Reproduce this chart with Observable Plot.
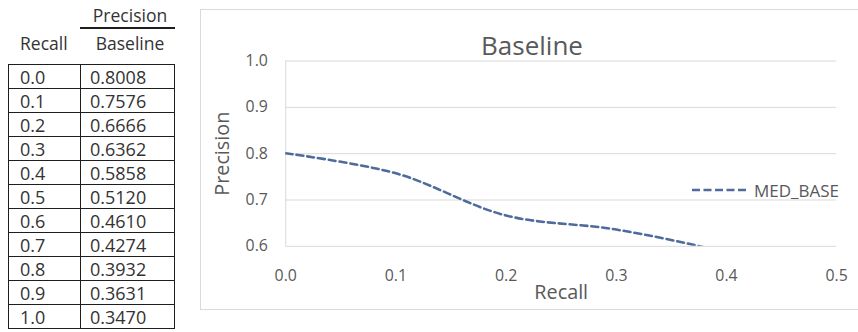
<!DOCTYPE html>
<html><head><meta charset="utf-8">
<script src="https://cdn.jsdelivr.net/npm/d3@7"></script>
<script src="https://cdn.jsdelivr.net/npm/@observablehq/plot@0.6"></script>
<style>
body{margin:0;background:#fff;font-family:"Open Sans",Lato,sans-serif;}
#wrap{position:relative;width:858px;height:332px;overflow:hidden;background:#fff;}
#chart{position:absolute;left:200px;top:9px;}
#chart svg{border:1px solid #d9d9d9;display:block;}
#title{position:absolute;left:432px;width:200px;top:28px;text-align:center;font-size:26px;color:#595959;line-height:34px;}
#legend{position:absolute;left:692px;top:178px;height:24px;display:flex;align-items:center;color:#595959;font-size:17px;}
#legend svg{margin-right:6px;}
.hdr{position:absolute;font-size:17.5px;color:#333;line-height:22px;}
#tbl{position:absolute;left:8px;top:64px;border-collapse:collapse;table-layout:fixed;font-size:18px;color:#333;}
#tbl td{border:1.5px solid #1e1e1e;height:23px;padding:0;line-height:22px;}
#tbl td.c1{width:60px;padding-left:11px;}
#tbl td.c2{width:84px;padding-left:9px;}
</style></head><body>
<div id="wrap">
  <div class="hdr" style="left:80px;width:100px;top:4px;text-align:center;">Precision</div>
  <div style="position:absolute;left:80px;width:95px;top:27px;height:1.5px;background:#1e1e1e;"></div>
  <div class="hdr" id="h1" style="left:20px;top:32px;"></div>
  <div class="hdr" id="h2" style="left:80px;width:100px;top:32px;text-align:center;"></div>
  <table id="tbl"></table>
  <div id="chart"></div>
  <div id="title"></div>
  <div id="legend"></div>
</div>
<script>
// ---- data ----
const recall = [0.0, 0.1, 0.2, 0.3, 0.4, 0.5, 0.6, 0.7, 0.8, 0.9, 1.0];
const recallLabels = ["0.0","0.1","0.2","0.3","0.4","0.5","0.6","0.7","0.8","0.9","1.0"];
const baseline = [0.8008, 0.7576, 0.6666, 0.6362, 0.5858, 0.5120, 0.4610, 0.4274, 0.3932, 0.3631, 0.3470];
const baselineLabels = ["0.8008","0.7576","0.6666","0.6362","0.5858","0.5120","0.4610","0.4274","0.3932","0.3631","0.3470"];
const xTicks = [0.0, 0.1, 0.2, 0.3, 0.4, 0.5];
const yTicks = [0.6, 0.7, 0.8, 0.9, 1.0];
const tableHeaders = ["Recall", "Baseline"];
const chartTitle = "Baseline";
const seriesName = "MED_BASE";
const xLabel = "Recall";
const yLabel = "Precision";

// ---- table ----
document.getElementById("h1").textContent = tableHeaders[0];
document.getElementById("h2").textContent = tableHeaders[1];
const tbl = document.getElementById("tbl");
recallLabels.forEach((r, i) => {
  const tr = document.createElement("tr");
  const a = document.createElement("td"); a.className = "c1"; a.textContent = r;
  const b = document.createElement("td"); b.className = "c2"; b.textContent = baselineLabels[i];
  tr.append(a, b); tbl.append(tr);
});

// ---- chart ----
const lineColor = "#4f6b9c";
const data = recall.map((r, i) => ({recall: r, precision: baseline[i]}));
const fmt = d3.format(".1f");
const plot = Plot.plot({
  width: 664, height: 302,
  marginLeft: 85, marginRight: 23, marginTop: 51, marginBottom: 64,
  style: {fontFamily: "'Open Sans', Lato, sans-serif", color: "#595959", background: "#fff", overflow: "visible"},
  x: {domain: [0, 0.5]},
  y: {domain: [0.6, 1.0]},
  marks: [
    Plot.gridY(yTicks, {stroke: "#d9d9d9", strokeOpacity: 1, strokeWidth: 1}),
    Plot.ruleX([0], {stroke: "#d9d9d9", strokeWidth: 1}),
    Plot.axisY(yTicks, {tickSize: 0, tickPadding: 18, tickFormat: fmt, fontSize: 16, fill: "#595959", label: null}),
    Plot.axisX(xTicks, {tickSize: 0, tickPadding: 24, tickFormat: fmt, fontSize: 16, fill: "#595959", label: null}),
    Plot.text([yLabel], {frameAnchor: "left", textAnchor: "middle", lineAnchor: "middle", rotate: -90, dx: -64, fontSize: 20, fill: "#595959"}),
    Plot.text([xLabel], {frameAnchor: "bottom", textAnchor: "middle", lineAnchor: "middle", dy: 47, fontSize: 20, fill: "#595959"}),
    Plot.line(data, {x: "recall", y: "precision", curve: "catmull-rom", stroke: lineColor, strokeWidth: 2.6, strokeDasharray: "7,4", clip: true})
  ]
});
document.getElementById("chart").append(plot);
document.getElementById("title").textContent = chartTitle;

// ---- legend ----
const lg = document.getElementById("legend");
lg.innerHTML = `<svg width="56" height="6"><line x1="0" y1="3" x2="56" y2="3" stroke="${lineColor}" stroke-width="2.4" stroke-dasharray="8,3.5"/></svg><span></span>`;
lg.querySelector("span").textContent = seriesName;
</script>
</body></html>
